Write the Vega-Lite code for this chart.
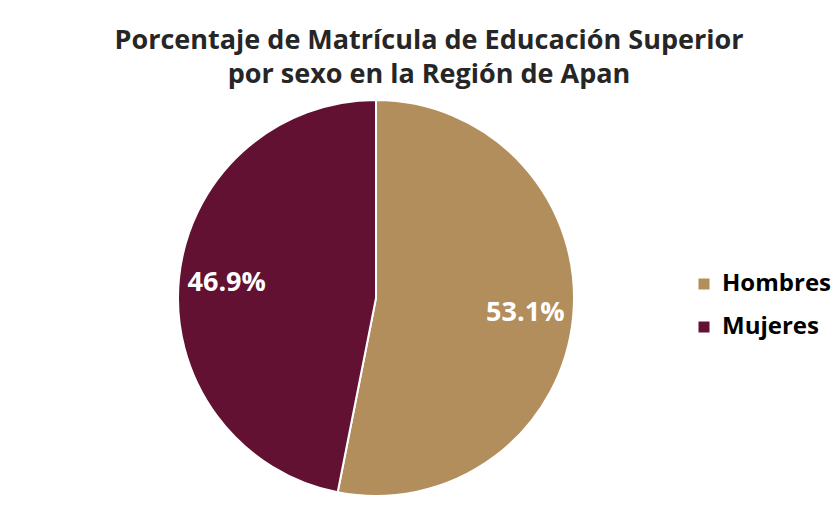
{
  "$schema": "https://vega.github.io/schema/vega-lite/v6.json",
  "autosize": "none",
  "width": 752,
  "height": 396,
  "padding": {"left": 0, "top": 100, "right": 88, "bottom": 12},
  "background": "white",
  "title": {
    "text": ["Porcentaje de Matrícula de Educación Superior", "por sexo en la Región de Apan"],
    "font": "Open Sans",
    "fontSize": 27,
    "fontWeight": "bold",
    "color": "#262626",
    "lineHeight": 34,
    "anchor": "middle",
    "dx": 53,
    "offset": 7
  },
  "data": {
    "values": [
      {"sexo": "Hombres", "porcentaje": 53.1, "etiqueta": "53.1%"},
      {"sexo": "Mujeres", "porcentaje": 46.9, "etiqueta": "46.9%"}
    ]
  },
  "encoding": {
    "theta": {"field": "porcentaje", "type": "quantitative", "stack": true},
    "order": {"field": "sexo", "sort": "ascending"}
  },
  "layer": [
    {
      "mark": {"type": "arc", "outerRadius": 198, "stroke": "white", "strokeWidth": 2},
      "encoding": {
        "color": {
          "field": "sexo",
          "type": "nominal",
          "scale": {"domain": ["Hombres", "Mujeres"], "range": ["#B38E5D", "#621132"]},
          "legend": {
            "title": null,
            "orient": "none",
            "legendX": 692,
            "legendY": 172,
            "symbolType": "square",
            "symbolSize": 121,
            "symbolStrokeWidth": 0,
            "labelFont": "Open Sans",
            "labelFontSize": 24,
            "labelFontWeight": "bold",
            "labelColor": "#000000",
            "labelOffset": 6,
            "rowPadding": 19
          }
        }
      }
    },
    {
      "mark": {"type": "text", "radius": 150, "font": "Open Sans", "fontSize": 27, "fontWeight": "bold", "fill": "white"},
      "encoding": {
        "text": {"field": "etiqueta", "type": "nominal"}
      }
    }
  ],
  "config": {"view": {"stroke": null}}
}
